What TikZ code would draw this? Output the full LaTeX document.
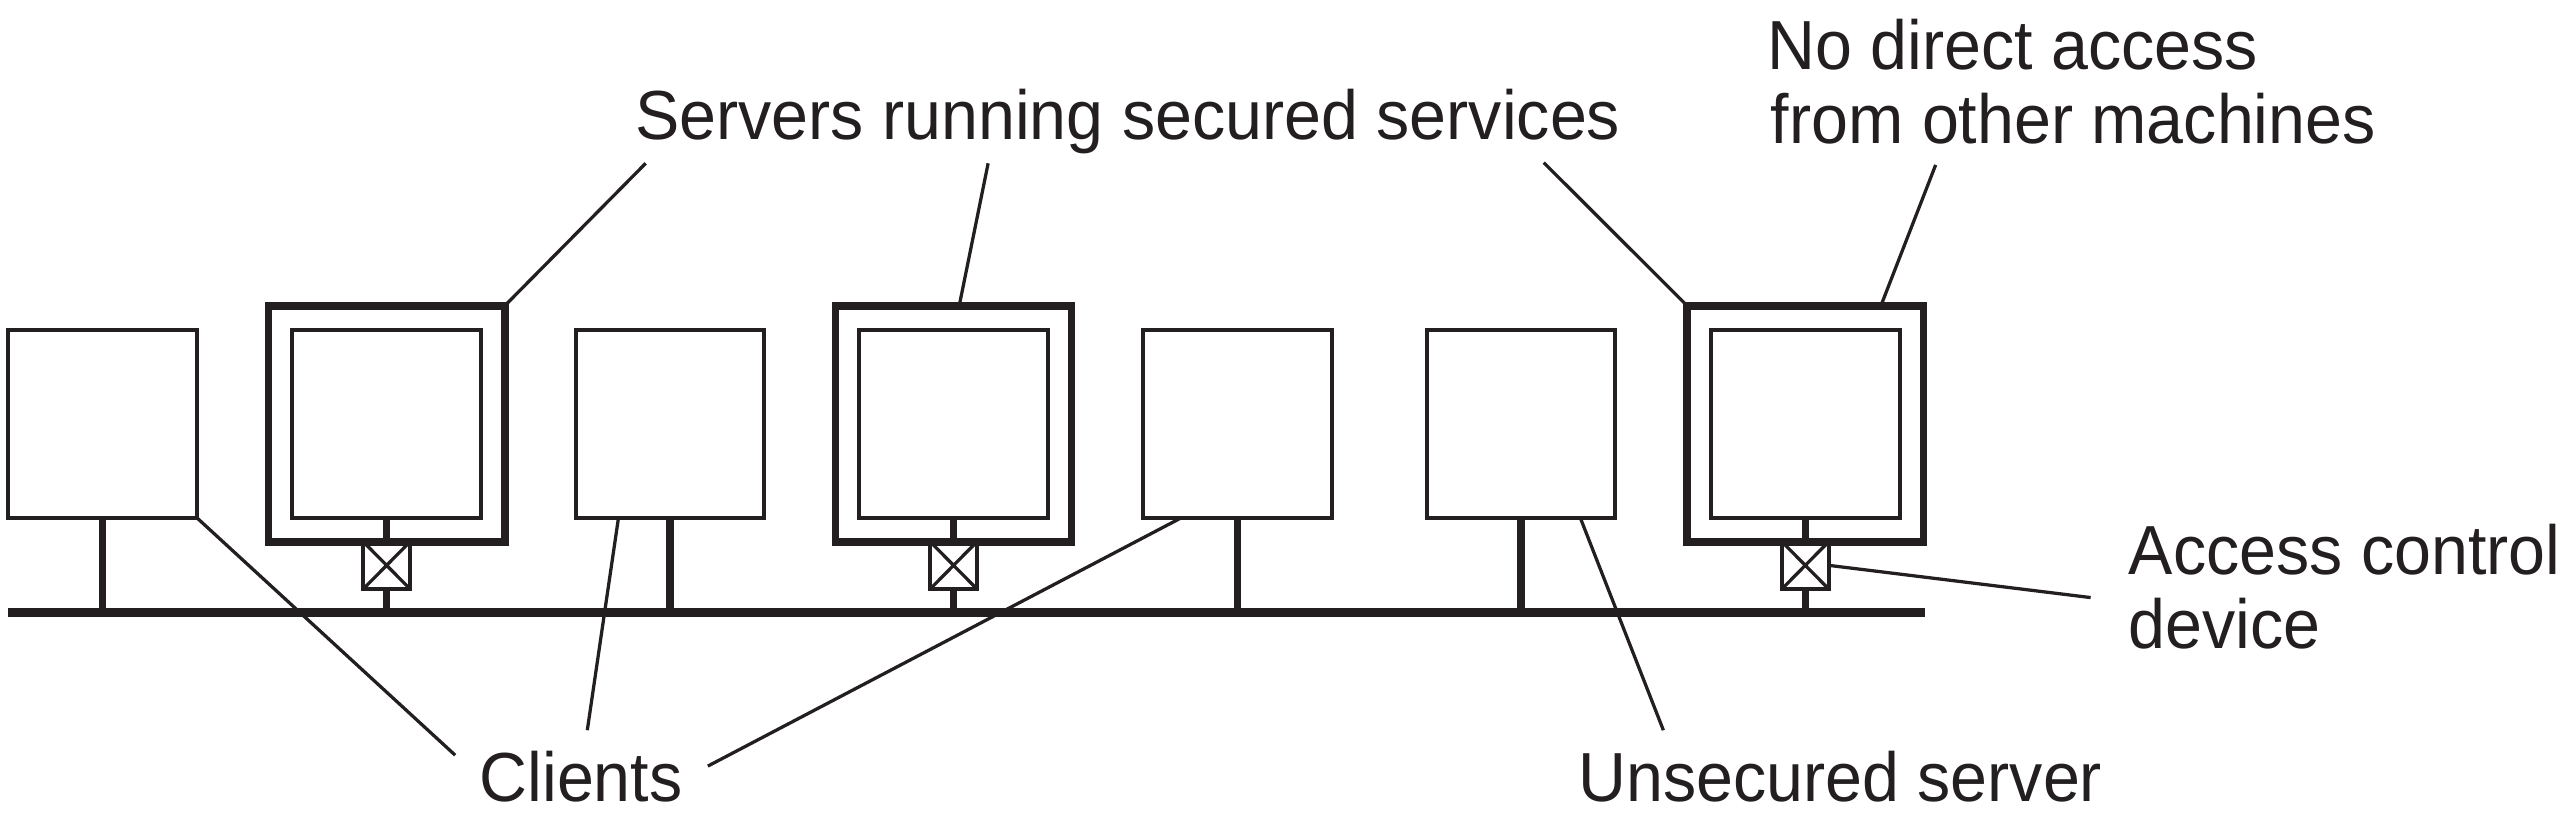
\documentclass[tikz,border=0pt]{standalone}
\usepackage{fontspec}
\setmainfont{Liberation Sans}[FakeStretch=0.955]
\usetikzlibrary{calc}
\definecolor{ink}{RGB}{35,31,32}
\begin{document}
\begin{tikzpicture}[x=0.5pt,y=-0.5pt,
  box/.style={draw=ink, line width=1.23pt, minimum width=57.8pt, minimum height=57.65pt, inner sep=0pt, outer sep=0pt},
  outerbox/.style={draw=ink, line width=2.3pt, minimum width=72.4pt, minimum height=72.35pt, inner sep=0pt, outer sep=0pt},
  acd/.style={draw=ink, line width=1.2pt, minimum width=14.3pt, minimum height=14.45pt, inner sep=0pt, outer sep=0pt,
    path picture={\draw[ink, line width=1pt] (path picture bounding box.north west) -- (path picture bounding box.south east)
      (path picture bounding box.north east) -- (path picture bounding box.south west);}},
  stem/.style={ink, line width=2.25pt},
  bus/.style={ink, line width=2.75pt},
  leader/.style={ink, line width=1pt},
  lbl/.style={anchor=base west, inner sep=0pt, outer sep=0pt, text=ink, font=\fontsize{21.3pt}{22.5pt}\selectfont}]
\useasboundingbox (0,0) rectangle (1568,501);

% bus
\coordinate (busL) at (5.2,375.5);
\coordinate (busR) at (1179.7,375.5);
\draw[bus] (busL) -- (busR);

% machines
\node[box] (c1) at (63,259.85) {};
\node[outerbox] (s1o) at (237,259.8) {};
\node[box] (s1i) at (237,259.85) {};
\node[acd] (a1) at (237,346.55) {};
\node[box] (c2) at (410.6,259.85) {};
\node[outerbox] (s2o) at (584.5,259.8) {};
\node[box] (s2i) at (584.5,259.85) {};
\node[acd] (a2) at (584.5,346.55) {};
\node[box] (c3) at (758.7,259.85) {};
\node[box] (u1) at (932.3,259.85) {};
\node[outerbox] (s3o) at (1106.6,259.8) {};
\node[box] (s3i) at (1106.6,259.85) {};
\node[acd] (a3) at (1106.6,346.55) {};

% stems
\foreach \n in {c1,c2,c3,u1}{\draw[stem] (\n.south) -- (\n.south |- busL);}
\foreach \k in {1,2,3}{
  \draw[stem] (s\k i.south) -- (a\k.north);
  \draw[stem] (a\k.south) -- (a\k.south |- busL);
}

% labels
\node[lbl] (servlbl) at (389.5,85.4) {Servers running secured services};
\node[lbl] (nd1) at (1083.5,42.9) {No direct access};
\node[lbl] (nd2) at (1085.5,88.1) {from other machines};
\node[lbl] (ac1) at (1305,352.4) {Access control};
\node[lbl] (ac2) at (1305,397.5) {device};
\node[lbl] (cl) at (294,491.5) {Clients};
\node[lbl] (us) at (967.5,491.5) {Unsecured server};

% leader end points
\coordinate (ls1) at (395.8,100.1);
\coordinate (ls2) at (605.7,100.1);
\coordinate (ls3) at (946.3,99.7);
\coordinate (lnd) at (1186.5,101.1);
\coordinate (lc1) at (279,462.9);
\coordinate (lc2) at (360,447.6);
\coordinate (lc3) at (433.9,469.6);
\coordinate (lus) at (1019.6,447.6);
\coordinate (lac) at (1281.5,366.3);

% leaders
\draw[leader] (ls1) -- (s1o.north east);
\draw[leader] (ls2) -- ($(s2o.north west)!0.524!(s2o.north east)$);
\draw[leader] (ls3) -- (s3o.north west);
\draw[leader] (lnd) -- ($(s3o.north west)!0.82!(s3o.north east)$);
\draw[leader] (lc1) -- (c1.south east);
\draw[leader] (lc2) -- ($(c2.south west)!0.2275!(c2.south east)$);
\draw[leader] (lc3) -- ($(c3.south west)!0.199!(c3.south east)$);
\draw[leader] (lus) -- ($(u1.south west)!0.815!(u1.south east)$);
\draw[leader] (lac) -- (a3.east);
\end{tikzpicture}
\end{document}
